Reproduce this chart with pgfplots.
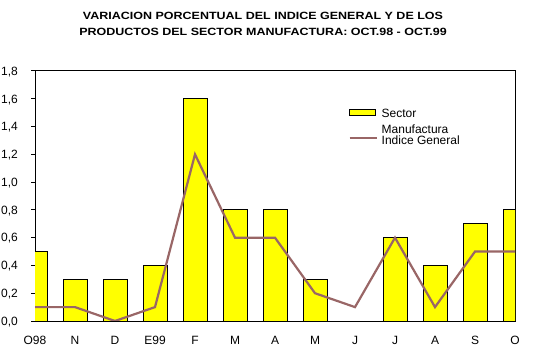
\documentclass[border=0pt]{standalone}
\usepackage{pgfplots}
\pgfplotsset{compat=1.18}
\usepackage{fontspec}
\setmainfont{Liberation Sans}
\definecolor{barY}{RGB}{255,255,0}
\definecolor{lineC}{RGB}{153,102,102}
\begin{document}
\begin{tikzpicture}
\useasboundingbox (0,0) rectangle (534bp,357bp);
\node[font=\bfseries\fontsize{10.5bp}{16bp}\selectfont, align=center, inner sep=0pt, anchor=north, xscale=1.19] at (263bp,344.7bp)
  {VARIACION PORCENTUAL DEL INDICE GENERAL Y DE LOS\\PRODUCTOS DEL SECTOR MANUFACTURA: OCT.98 - OCT.99};
\begin{axis}[
  at={(35bp,36bp)}, anchor=south west,
  scale only axis, width=480bp, height=250bp,
  xmin=0, xmax=12, ymin=0, ymax=1.8,
  axis line style={black, line width=1bp},
  xtick={0,1,2,3,4,5,6,7,8,9,10,11,12},
  xticklabels={O98,N,D,E99,F,M,A,M,J,J,A,S,O},
  ytick={0,0.2,0.4,0.6,0.8,1.0,1.2,1.4,1.6,1.8},
  xtick style={draw=none},
  ytick pos=left,
  tick align=outside,
  major tick length=4bp,
  ytick style={black, line width=1bp},
  tick label style={font=\fontsize{12bp}{14.4bp}\selectfont},
  yticklabel style={anchor=base east, inner sep=0pt, xshift=-13bp, yshift=-4.3bp,
    /pgf/number format/.cd, fixed, fixed zerofill, precision=1, use comma, assume math mode=true},
  xticklabel style={anchor=base, inner sep=0pt, yshift=-19bp},
  legend style={at={(axis description cs:0.65625,1)}, anchor=north west, yshift=-37.5bp, xshift=-1.5bp,
    draw=none, fill=none, inner sep=0pt, outer sep=0pt,
    font=\fontsize{12bp}{14.4bp}\selectfont,
    column sep=4bp, row sep=0pt,
    nodes={inner sep=0pt, outer sep=0pt, text height=9bp, text depth=2.7bp},
    cells={anchor=base west}},
  legend cell align=left,
]
\addplot[ybar, bar width=24bp, bar shift=0pt, fill=barY, draw=black, line width=1bp,
  legend image code/.code={\draw[fill=barY, draw=black, line width=1bp] (0bp,0.7bp) rectangle (26bp,6.7bp);}]
  coordinates {(0,0.5) (1,0.3) (2,0.3) (3,0.4) (4,1.6) (5,0.8) (6,0.8) (7,0.3) (8,0) (9,0.6) (10,0.4) (11,0.7) (12,0.8)};
\addlegendentry[text depth=6.6bp]{Sector}
\addlegendimage{empty legend}
\addlegendentry{Manufactura}
\addplot[lineC, line width=2.2bp, mark=none,
  legend image code/.code={\draw[lineC, line width=2.2bp] (0bp,3.3bp)--(27bp,3.3bp);}]
  coordinates {(0,0.1) (1,0.1) (2,0.0) (3,0.1) (4,1.2) (5,0.6) (6,0.6) (7,0.2) (8,0.1) (9,0.6) (10,0.1) (11,0.5) (12,0.5)};
\addlegendentry{Indice General}
\end{axis}
\end{tikzpicture}
\end{document}
